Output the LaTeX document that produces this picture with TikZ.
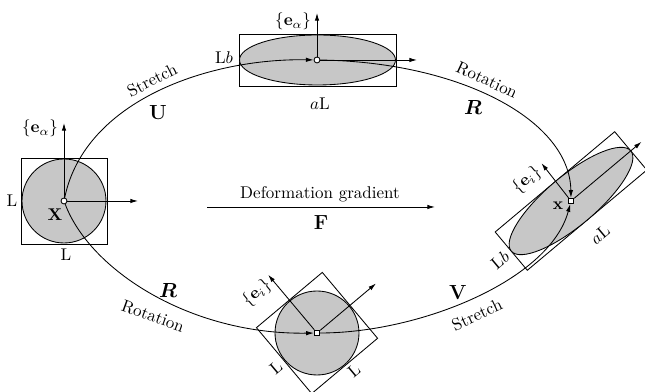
\documentclass[tikz,border=0pt]{standalone}
\usepackage{amsmath}
\usetikzlibrary{arrows.meta}

\begin{document}
\begin{tikzpicture}[x=0.588pt, y=0.588pt,
    marker/.style={draw, fill=white, circle, inner sep=0pt, minimum size=3.5pt, line width=0.5pt},
    sqmarker/.style={marker, rectangle, minimum size=3.2pt},
    flow/.style={-{Latex[length=4.5pt,width=2.6pt]}, line width=0.5pt},
    basis/.style={flow},
    body/.style={draw, fill=black!22, line width=0.5pt},
    outline/.style={draw, line width=0.5pt},
    tilted/.style={rotate=#1, inner sep=0.5pt},
    oplabel/.style={font=\large}]
    \useasboundingbox (0,0) rectangle (645,392);

    % ==========================================
    % Reference configuration (left)
    % ==========================================
    \draw[outline] (21,148) rectangle (107,234);
    \draw[body] (64,191) circle (42);
    \node[marker] (X) at (64,191) {};
    \draw[basis] (X) -- ++(0,78) node[left, pos=0.93] {$\{\mathbf{e}_\alpha\}$};
    \draw[basis] (X) -- ++(74,0);
    \node at (12,191) {L};
    \node at (66,137) {L};
    \node at (55,177) {$\mathbf{X}$};

    % ==========================================
    % Stretched configuration (top)
    % ==========================================
    \draw[outline] (239,306) rectangle (396,358);
    \draw[body] (317.5,332) ellipse [x radius=78, y radius=25];
    \node[marker] (T) at (317,332) {};
    \draw[basis] (T) -- ++(0,47) node[left, pos=0.8] {$\{\mathbf{e}_\alpha\}$};
    \draw[basis] (T) -- ++(100,0);
    \node[left] at (239,334) {L$b$};
    \node at (320,288) {$a$L};

    % ==========================================
    % Rotated configuration (bottom)
    % ==========================================
    \begin{scope}[shift={(317,59)}, rotate=40]
        \draw[outline] (-43,-43) rectangle (43,43);
    \end{scope}
    \draw[body] (317,59) circle (42);
    \node[sqmarker] (B) at (317,59) {};
    \draw[basis] (B) -- ++(130:76);
    \draw[basis] (B) -- ++(40:77);
    \node[tilted=40] at (257,99) {$\{\mathbf{e}_i\}$};
    \node[tilted=40] at (276,24) {L};
    \node[tilted=40] at (354,21) {L};

    % ==========================================
    % Current configuration (right)
    % ==========================================
    \begin{scope}[shift={(571,191)}, rotate=40]
        \draw[outline] (-78,-25) rectangle (78,25);
        \draw[body] (0,0) ellipse [x radius=78, y radius=25];
    \end{scope}
    \node[sqmarker] (xr) at (571,191) {};
    \draw[basis] (xr) -- ++(40:92);
    \draw[basis] (xr) -- ++(128:48);
    \node[tilted=40] at (527,212) {$\{\mathbf{e}_i\}$};
    \node at (558,186) {$\mathbf{x}$};
    \node[tilted=40] at (600,157) {$a$L};
    \node[tilted=40] at (500,132) {L$b$};

    % ==========================================
    % Decomposition paths F = RU = VR
    % ==========================================
    \draw[flow] (X) .. controls (85,292) and (210,334) .. (T);
    \draw[flow] (T) .. controls (460,330) and (570,272) .. (xr);
    \draw[flow] (X) .. controls (90,122) and (190,57) .. (B);
    \draw[flow] (B) .. controls (420,59) and (550,112) .. (xr);

    % Path labels
    \node[tilted=27] at (152,312) {Stretch};
    \node[oplabel] at (158,279) {$\mathbf{U}$};
    \node[tilted=-25] at (487,312) {Rotation};
    \node[oplabel] at (473,284) {$\boldsymbol{R}$};
    \node[oplabel] at (168,101) {$\boldsymbol{R}$};
    \node[tilted=-20] at (153,76) {Rotation};
    \node[oplabel] at (458,99) {$\mathbf{V}$};
    \node[tilted=25] at (477,77) {Stretch};

    % Deformation gradient arrow
    \coordinate (Fstart) at (207,185);
    \coordinate (Fend) at (435,185);
    \draw[flow] (Fstart) -- (Fend);
    \node (Fname) at (320,198) {Deformation gradient};
    \node[oplabel] (F) at (321,169) {$\mathbf{F}$};
\end{tikzpicture}
\end{document}
